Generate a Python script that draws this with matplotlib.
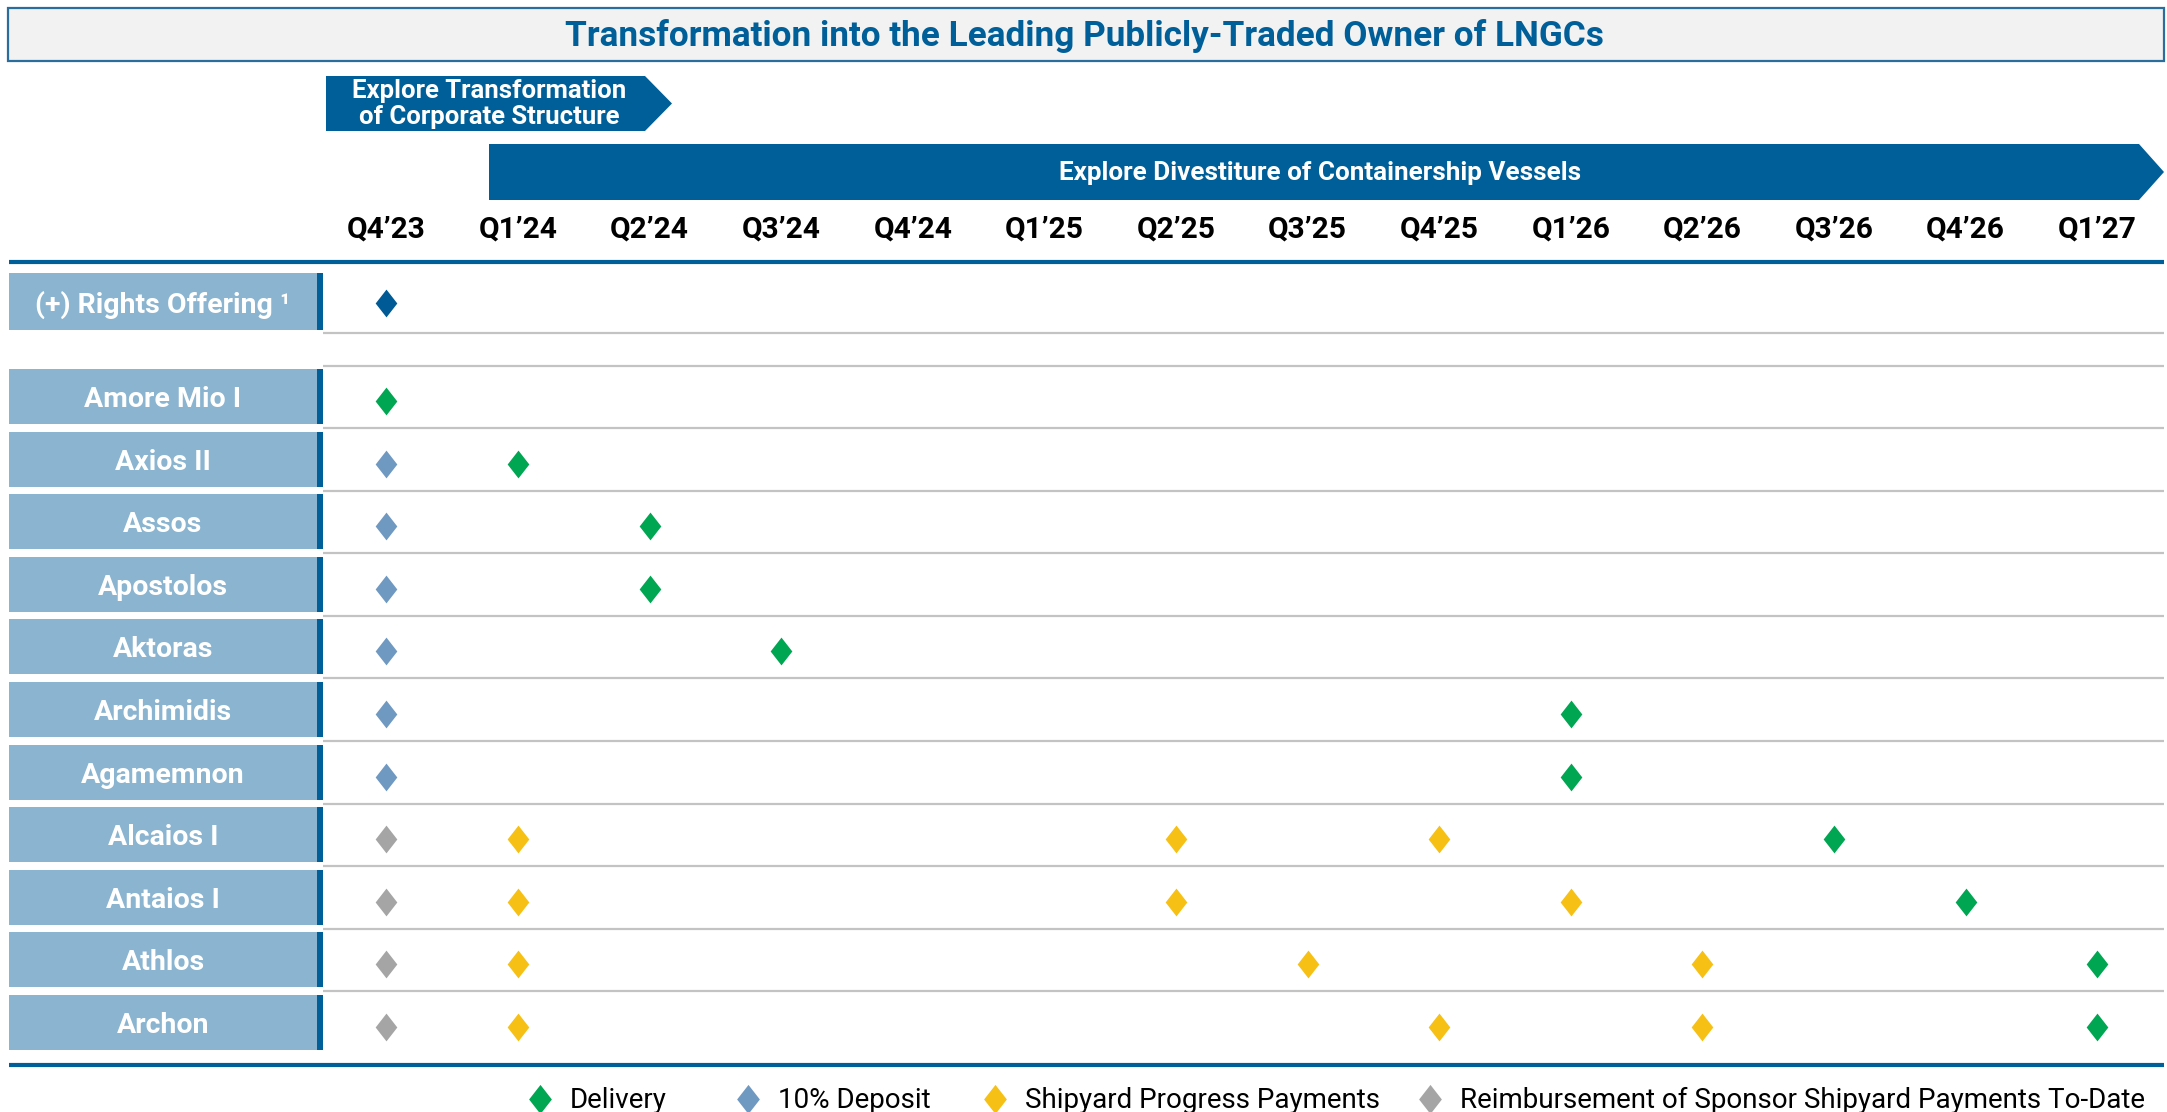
import matplotlib
matplotlib.use("Agg")
import matplotlib.pyplot as plt
from matplotlib.patches import Rectangle, Polygon

plt.rcParams['font.family'] = ['Roboto', 'DejaVu Sans']

# ---- data ----
quarters = ["Q4’23", "Q1’24", "Q2’24", "Q3’24", "Q4’24", "Q1’25", "Q2’25",
            "Q3’25", "Q4’25", "Q1’26", "Q2’26", "Q3’26", "Q4’26", "Q1’27"]
rights_label = "(+) Rights Offering ¹"
vessels = ["Amore Mio I", "Axios II", "Assos", "Apostolos", "Aktoras", "Archimidis",
           "Agamemnon", "Alcaios I", "Antaios I", "Athlos", "Archon"]

rights_q = ["Q4’23"]

delivery_vessel = ["Amore Mio I", "Axios II", "Assos", "Apostolos", "Aktoras", "Archimidis",
                   "Agamemnon", "Alcaios I", "Antaios I", "Athlos", "Archon"]
delivery_q = ["Q4’23", "Q1’24", "Q2’24", "Q2’24", "Q3’24", "Q1’26",
              "Q1’26", "Q3’26", "Q4’26", "Q1’27", "Q1’27"]

deposit_vessel = ["Axios II", "Assos", "Apostolos", "Aktoras", "Archimidis", "Agamemnon"]
deposit_q = ["Q4’23"] * 6

progress_vessel = ["Alcaios I", "Alcaios I", "Alcaios I",
                   "Antaios I", "Antaios I", "Antaios I",
                   "Athlos", "Athlos", "Athlos",
                   "Archon", "Archon", "Archon"]
progress_q = ["Q1’24", "Q2’25", "Q4’25",
              "Q1’24", "Q2’25", "Q1’26",
              "Q1’24", "Q3’25", "Q2’26",
              "Q1’24", "Q4’25", "Q2’26"]

reimb_vessel = ["Alcaios I", "Antaios I", "Athlos", "Archon"]
reimb_q = ["Q4’23"] * 4

legend_labels = ["Delivery", "10% Deposit", "Shipyard Progress Payments",
                 "Reimbursement of Sponsor Shipyard Payments To-Date"]

# ---- style ----
BLUE = "#005F98"
LIGHT = "#8AB4CF"
GREEN = "#00A651"
DEPOSIT = "#7099C2"
YELLOW = "#F6C015"
GRAY = "#A5A5A5"
RIGHTS = "#005A96"
LINE_GRAY = "#C3C3C3"

W, H = 2167, 1112
COL0, COLW = 386.4, 131.6      # px of first column centre, column pitch
ROW0, ROWH = 303.0, 62.6       # px of rights row centre, row pitch
GAP = (401 - ROW0) / ROWH      # offset of first vessel row

diamond = [(0, 1), (0.78, 0), (0, -1), (-0.78, 0), (0, 1)]

fig = plt.figure(figsize=(W / 100, H / 100), dpi=100)
fig.patch.set_facecolor("white")

# pixel-space axes for decorations
deco = fig.add_axes([0, 0, 1, 1], zorder=0)
deco.set_xlim(0, W)
deco.set_ylim(H, 0)
deco.axis("off")

# data axes: x = quarter index, y = row position
ax = fig.add_axes([0, 0, 1, 1], zorder=1)
ax.set_xlim(-COL0 / COLW, (W - COL0) / COLW)
ax.set_ylim((H - ROW0) / ROWH, -ROW0 / ROWH)
ax.axis("off")
ax.patch.set_alpha(0)

def X(px):
    return (px - COL0) / COLW

def dy(px):
    return px / ROWH

qidx = {q: i for i, q in enumerate(quarters)}
row_y = {rights_label: 0.0}
for i, v in enumerate(vessels):
    row_y[v] = GAP + i

# ---- title box ----
deco.add_patch(Rectangle((8, 8), 2156, 53, facecolor="#F2F2F2", edgecolor="#2A6E9E", lw=1.6))
deco.text(1084, 36, "Transformation into the Leading Publicly-Traded Owner of LNGCs",
          ha="center", va="center", fontsize=25.3, fontweight="bold", color=BLUE)

# ---- chevrons ----
deco.add_patch(Polygon([(326, 76), (645, 76), (672, 103.5), (645, 131), (326, 131)],
                       closed=True, facecolor=BLUE, edgecolor="none"))
deco.text(489, 104, "Explore Transformation\nof Corporate Structure", ha="center", va="center",
          fontsize=18.5, fontweight="bold", color="white", linespacing=1.15)
deco.add_patch(Polygon([(489, 144), (2139, 144), (2164, 172), (2139, 200), (489, 200)],
                       closed=True, facecolor=BLUE, edgecolor="none"))
deco.text(1320, 173, "Explore Divestiture of Containership Vessels", ha="center", va="center",
          fontsize=18.8, fontweight="bold", color="white")

# ---- column headers and rules ----
for q, i in qidx.items():
    ax.text(i, dy(230 - ROW0), q, ha="center", va="center", fontsize=21.5,
            fontweight="bold", color="black")
deco.plot([9, 2164], [261.5, 261.5], color=BLUE, lw=3, solid_capstyle="butt")
deco.plot([9, 2164], [1065, 1065], color=BLUE, lw=3, solid_capstyle="butt")

# ---- row label boxes ----
gx0, gx1 = X(323), X(2164)
for name, y in row_y.items():
    if name == rights_label:
        top, bot = y - dy(30), y + dy(27)
    else:
        top, bot = y - dy(32), y + dy(23)
    ax.add_patch(Rectangle((X(9), top), X(317) - X(9), bot - top, facecolor=LIGHT,
                           edgecolor="none"))
    ax.add_patch(Rectangle((X(317), top), X(323) - X(317), bot - top, facecolor=BLUE,
                           edgecolor="none"))
    ax.text((X(9) + X(317)) / 2, (top + bot) / 2 + dy(3), name, ha="center", va="center",
            fontsize=20.5, fontweight="bold", color="white")

# grey separators in the grid area
sep = [row_y[rights_label] + dy(30), row_y[vessels[0]] - dy(35)]
sep += [row_y[v] + dy(27) for v in vessels[:-1]]
for y in sep:
    ax.plot([gx0, gx1], [y, y], color=LINE_GRAY, lw=1.6, solid_capstyle="butt")

# ---- markers ----
def draw(vs, qs, color):
    ax.plot([qidx[q] for q in qs], [row_y[v] for v in vs], linestyle="none",
            marker=diamond, markersize=20, color=color, markeredgewidth=0, zorder=3)

draw([rights_label], rights_q, RIGHTS)
draw(deposit_vessel, deposit_q, DEPOSIT)
draw(reimb_vessel, reimb_q, GRAY)
draw(progress_vessel, progress_q, YELLOW)
draw(delivery_vessel, delivery_q, GREEN)

# ---- legend ----
legend_x = [540, 748, 995, 1430]
for lx, lab, col in zip(legend_x, legend_labels, [GREEN, DEPOSIT, YELLOW, GRAY]):
    deco.plot([lx], [1099], linestyle="none", marker=diamond, markersize=21, color=col,
              markeredgewidth=0)
    deco.text(lx + 30, 1100, lab, ha="left", va="center", fontsize=20, color="black")

fig.savefig("out.png", dpi=100, facecolor="white")
